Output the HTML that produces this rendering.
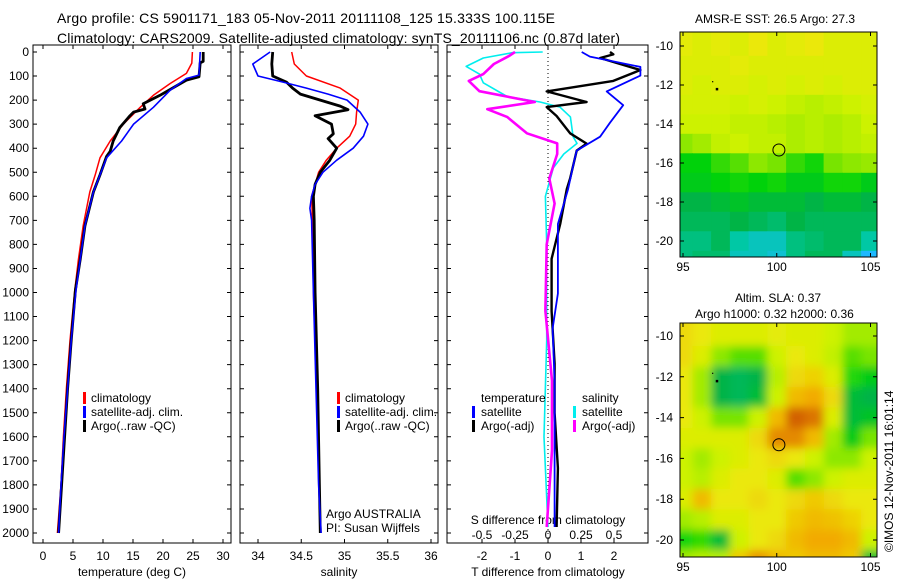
<!DOCTYPE html>
<html><head><meta charset="utf-8"><style>
html,body{margin:0;padding:0;background:#fff;}
svg{display:block;font-family:"Liberation Sans",sans-serif;}
</style></head><body>
<svg id="fig" width="900" height="580" viewBox="0 0 900 580" xmlns="http://www.w3.org/2000/svg">
<defs>
<clipPath id="c1"><rect x="33" y="45" width="198" height="498"/></clipPath>
<clipPath id="c2"><rect x="240" y="45" width="198" height="498"/></clipPath>
<clipPath id="c3"><rect x="447" y="45" width="201" height="498"/></clipPath>
<clipPath id="cm1"><rect x="680" y="32" width="197" height="225"/></clipPath>
<clipPath id="cm2"><rect x="680" y="323" width="197" height="234"/></clipPath>
<filter id="blur" x="-5%" y="-5%" width="110%" height="110%"><feGaussianBlur stdDeviation="4.5"/></filter>
</defs>
<text x="57" y="23" font-size="14" textLength="498">Argo profile: CS 5901171_183 05-Nov-2011 20111108_125 15.333S 100.115E</text>
<text x="57" y="43" font-size="14" textLength="563">Climatology: CARS2009. Satellite-adjusted climatology: synTS_20111106.nc (0.87d later)</text>
<text x="695" y="23" font-size="12">AMSR-E SST: 26.5 Argo: 27.3</text>
<text x="735" y="302" font-size="12">Altim. SLA: 0.37</text>
<text x="695" y="318" font-size="12">Argo h1000: 0.32 h2000: 0.36</text>
<text transform="translate(893,552) rotate(-90)" font-size="12">©IMOS 12-Nov-2011 16:01:14</text>
<g id="g"></g>
</svg>
<script>
// ---------- data ----------
const depthTicks = [0,100,200,300,400,500,600,700,800,900,1000,1100,1200,1300,1400,1500,1600,1700,1800,1900,2000];
const tempTicks = [0,5,10,15,20,25,30];
const salTicks = [34,34.5,35,35.5,36];
const tdiffTicks = [-2,-1,0,1,2];
const sdiffTicks = [-0.5,-0.25,0,0.25,0.5];
const sdiffLabels = ['-0.5','-0.25','0','0.25','0.5'];

const tClimDepth = [0,46,89,131,180,230,300,370,440,511,582,722,863,990,1200,1400,1600,1800,2000];
const tClimVal   = [24.9,24.8,23.9,21.2,18.4,16.2,13.4,11.2,9.5,8.7,7.8,6.7,5.9,5.3,4.5,3.9,3.4,3.0,2.4];
const tSatDepth  = [0,96,110,159,230,300,370,440,511,582,722,863,990,1200,1400,1600,1800,2000];
const tSatVal    = [26.2,26.0,23.9,21.2,18.4,15.1,13.1,10.6,9.5,8.4,7.0,6.2,5.5,4.7,4.1,3.5,3.0,2.6];
const tArgoDepth = [0,39,45,103,117,180,215,237,250,265,314,370,413,434,511,582,722,863,990,1200,1400,1600,1800,2000];
const tArgoVal   = [26.7,26.7,26.2,26.0,23.9,19.5,16.7,17.0,15.1,14.5,12.8,11.7,11.2,10.6,9.5,8.4,7.0,6.2,5.4,4.7,4.1,3.6,3.1,2.6];

const sClimDepth = [0,50,100,150,200,250,300,350,400,450,500,550,600,700,1000,1400,1800,2000];
const sClimVal   = [34.39,34.42,34.56,34.95,35.16,35.14,35.13,35.06,34.91,34.79,34.70,34.66,34.62,34.63,34.64,34.68,34.71,34.72];
const sSatDepth  = [0,50,75,100,125,150,175,200,250,300,350,400,450,500,550,600,650,700,1000,1400,1800,2000];
const sSatVal    = [34.14,33.94,33.97,34.0,34.29,34.56,34.81,35.03,35.18,35.27,35.22,35.10,34.91,34.75,34.66,34.62,34.60,34.62,34.64,34.67,34.70,34.73];
const sArgoDepth = [0,50,100,125,150,175,200,225,240,265,300,340,360,400,450,500,550,600,700,1000,1400,1800,2000];
const sArgoVal   = [34.17,34.16,34.17,34.33,34.40,34.49,34.72,34.95,35.04,34.66,34.85,34.87,34.81,34.91,34.83,34.72,34.66,34.64,34.65,34.66,34.69,34.71,34.72];

const dTSatDepth  = [0,19,62,98,164,221,294,352,410,468,570,715,860,1004,1150,1367,1657,1975];
const dTSatVal    = [1.02,1.27,2.8,2.8,1.78,2.28,1.88,1.58,0.87,0.77,0.61,0.3,0.3,0.3,0.14,0.2,0.2,0.2];
const dTArgoDepth = [0,10,25,75,120,164,208,229,266,338,381,410,526,570,715,860,1077,1295,1500,1730,1975];
const dTArgoVal   = [1.88,1.98,1.58,2.8,1.98,-0.04,1.17,-0.04,0.26,0.67,1.17,0.87,0.67,0.57,0.37,0.11,0.11,0.2,0.2,0.3,0.26];
const dSSatDepth  = [0,3,25,60,92,128,185,208,229,270,352,380,424,482,600,800,1200,1600,1975];
const dSSatVal    = [-0.04,-0.27,-0.49,-0.62,-0.52,-0.49,-0.31,-0.06,0.09,0.17,0.19,0.22,0.12,0.04,-0.02,-0.01,-0.01,-0.03,0];
const dSArgoDepth = [0,15,50,92,120,163,208,238,270,338,380,424,526,630,800,1077,1367,1657,1975];
const dSArgoVal   = [-0.25,-0.29,-0.41,-0.49,-0.6,-0.52,-0.1,-0.46,-0.31,-0.16,0.07,0.07,0.01,0.05,-0.01,-0.02,0.03,0.03,-0.01];

const mapLons = [95,96,97,98,99,100,101,102,103,104,105];
const mapLats = [-10,-11,-12,-13,-14,-15,-16,-17,-18,-19,-20,-21];
const mapLonTicks = [95,100,105];
const mapLatTicks = [-10,-12,-14,-16,-18,-20];
const sstGrid = [
 [3.1,3.0,3.1,3.0,3.2,3.0,3.1,3.2,3.0,3.0,3.0],
 [3.0,3.0,3.0,3.1,3.0,3.0,3.0,3.0,3.0,3.0,3.0],
 [3.0,2.9,3.0,3.0,2.9,3.0,2.9,3.0,2.9,3.0,3.0],
 [2.9,2.9,2.9,2.8,2.9,2.8,2.7,2.6,2.7,2.8,2.9],
 [2.8,2.8,2.8,2.7,2.7,2.6,2.5,2.6,2.5,2.6,2.8],
 [2.2,2.4,2.7,2.8,2.7,2.7,2.5,2.6,2.5,2.6,2.7],
 [1.3,1.3,1.6,1.8,2.2,2.0,1.6,1.4,2.0,2.2,2.3],
 [1.2,1.2,1.3,1.4,1.3,1.4,1.2,1.2,1.4,1.4,1.2],
 [0.9,0.9,1.0,1.1,1.0,1.0,1.0,0.9,1.0,1.0,0.9],
 [0.8,0.8,0.8,0.9,0.8,0.7,0.9,0.8,0.8,0.8,0.8],
 [0.6,0.6,0.8,0.4,0.3,0.3,0.6,0.7,0.8,0.8,0.4],
 [0.6,0.7,0.7,0.3,0.3,0.2,0.6,0.8,0.8,0.3,0.0]];
const slaGrid = [
 [3.4,3.2,3.0,3.0,3.0,3.1,3.0,3.0,2.8,2.4,2.4],
 [3.4,3.0,2.2,1.8,1.8,2.8,3.2,3.0,2.7,1.8,2.0],
 [3.2,2.4,0.9,0.8,0.9,2.6,3.4,3.5,3.0,1.5,1.2],
 [3.2,2.4,0.9,0.8,1.0,2.8,3.8,4.0,3.4,1.0,0.9],
 [3.2,2.8,2.0,2.0,2.8,3.8,4.7,4.5,3.0,1.0,1.1],
 [3.0,3.0,3.0,3.0,3.4,4.3,4.3,3.8,2.4,1.2,2.0],
 [2.8,2.4,2.8,3.0,3.2,3.4,3.2,2.8,2.2,2.2,2.8],
 [2.8,2.6,3.0,3.2,3.2,3.0,1.8,2.2,2.8,3.0,3.0],
 [3.0,3.8,3.2,3.2,3.4,3.2,3.4,3.6,3.4,3.2,3.2],
 [2.4,2.6,3.0,3.0,3.2,3.2,3.6,3.8,3.7,3.5,3.2],
 [1.4,1.6,1.0,2.8,3.2,3.4,3.8,4.0,4.0,3.8,2.8],
 [2.4,2.6,2.6,3.6,4.2,3.8,3.6,3.8,3.8,3.6,1.0]];
const argoLon = 100.115, argoLat = -15.333;

// ---------- helpers ----------
const NS = 'http://www.w3.org/2000/svg';
const root = document.getElementById('g');
function mk(tag, attrs, parent){ const e=document.createElementNS(NS,tag); for(const k in attrs) e.setAttribute(k,attrs[k]); (parent||root).appendChild(e); return e; }
function yD(d){ return 52 + d*0.2405; }
function xT(t){ return 43 + t*6; }
function xS(s){ return 258 + (s-34)*86.5; }
function xDT(v){ return 548 + v*33; }
function xDS(v){ return 548 + v*132; }
function lonX(l){ return 683 + (l-95)*18.75; }
function latY1(l){ return 46 + (-10-l)*19.5; }
function latY2(l){ return 336 + (-10-l)*20.4; }

function panel(name, x0, w){
  const r = mk('rect',{x:x0,y:45,width:w,height:498,fill:'none',stroke:'#000','stroke-width':1});
  
  
  depthTicks.forEach(d=>{
    const t = mk('path',{d:`M${x0} ${yD(d)}h4M${x0+w} ${yD(d)}h-4`,stroke:'#000','stroke-width':1});
    
    
  });
}
function series(name, depths, vals, xf, color, width, clip, dash){
  const pts = depths.map((d,i)=>xf(vals[i]).toFixed(1)+','+yD(d).toFixed(1)).join(' ');
  const p = mk('polyline',{points:pts,fill:'none',stroke:color,'stroke-width':width,'stroke-linejoin':'round','clip-path':`url(#${clip})`});
  if(dash) p.setAttribute('stroke-dasharray',dash);
  
  
}
function label(name, x, y, txt, size, anchor){
  const t = mk('text',{x:x,y:y,'font-size':size||12,'text-anchor':anchor||'start'});
  t.textContent = txt;
  
  
  return t;
}
function legBar(name, x, y, color){
  const b = mk('rect',{x:x,y:y-10,width:3,height:12,fill:color});
  
  
}

// ---------- depth axis ----------
depthTicks.forEach(d=>{ label('depth-tick-label', 29, yD(d)+4, String(d), 12, 'end'); });

// ---------- panel 1: temperature ----------
panel('temperature-panel', 33, 198);
tempTicks.forEach(t=>{
  const k = mk('path',{d:`M${xT(t)} 543v-4M${xT(t)} 45v4`,stroke:'#000'});
  
  
  label('temperature-x-tick-label', xT(t), 560, String(t), 12, 'middle');
});
label('temperature-x-axis-title', 132, 576, 'temperature (deg C)', 12, 'middle');
series('temperature-climatology-line', tClimDepth, tClimVal, xT, '#f00', 1.5, 'c1');
series('temperature-argo-line', tArgoDepth, tArgoVal, xT, '#000', 2.8, 'c1');
series('temperature-satellite-line', tSatDepth, tSatVal, xT, '#00f', 1.6, 'c1');
legBar('legend-climatology-marker', 83, 402, '#f00');
label('legend-climatology-label', 91, 402, 'climatology', 12);
legBar('legend-satellite-marker', 83, 416, '#00f');
label('legend-satellite-label', 91, 416, 'satellite-adj. clim.', 12);
legBar('legend-argo-marker', 83, 430, '#000');
label('legend-argo-label', 91, 430, 'Argo(..raw -QC)', 12);

// ---------- panel 2: salinity ----------
panel('salinity-panel', 240, 198);
salTicks.forEach(s=>{
  const k = mk('path',{d:`M${xS(s)} 543v-4M${xS(s)} 45v4`,stroke:'#000'});
  
  
  label('salinity-x-tick-label', xS(s), 560, String(s), 12, 'middle');
});
label('salinity-x-axis-title', 339, 576, 'salinity', 12, 'middle');
series('salinity-climatology-line', sClimDepth, sClimVal, xS, '#f00', 1.5, 'c2');
series('salinity-argo-line', sArgoDepth, sArgoVal, xS, '#000', 2.8, 'c2');
series('salinity-satellite-line', sSatDepth, sSatVal, xS, '#00f', 1.6, 'c2');
legBar('legend2-climatology-marker', 337, 402, '#f00');
label('legend2-climatology-label', 345, 402, 'climatology', 12);
legBar('legend2-satellite-marker', 337, 416, '#00f');
label('legend2-satellite-label', 345, 416, 'satellite-adj. clim.', 12);
legBar('legend2-argo-marker', 337, 430, '#000');
label('legend2-argo-label', 345, 430, 'Argo(..raw -QC)', 12);
label('argo-australia-label', 326, 518, 'Argo AUSTRALIA', 12);
label('pi-name-label', 326, 532, 'PI: Susan Wijffels', 12);

// ---------- panel 3: differences ----------
panel('difference-panel', 447, 201);
const zl = mk('line',{x1:548,y1:45,x2:548,y2:543,stroke:'#000','stroke-dasharray':'1,3'});


tdiffTicks.forEach(v=>{
  const k = mk('path',{d:`M${xDT(v)} 543v-4M${xDT(v)} 45v4`,stroke:'#000'});
  
  
  label('t-diff-x-tick-label', xDT(v), 560, String(v), 12, 'middle');
});
sdiffTicks.forEach((v,i)=>{ label('s-diff-tick-label', xDS(v), 539, sdiffLabels[i], 12, 'middle'); });
label('s-diff-axis-title', 548, 524, 'S difference from climatology', 12, 'middle');
label('t-diff-axis-title', 548, 576, 'T difference from climatology', 12, 'middle');
series('salinity-diff-satellite-line', dSSatDepth, dSSatVal, xDS, '#0ee', 1.6, 'c3');
series('salinity-diff-argo-line', dSArgoDepth, dSArgoVal, xDS, '#f0f', 2.6, 'c3');
series('temperature-diff-argo-line', dTArgoDepth, dTArgoVal, xDT, '#000', 2.4, 'c3');
series('temperature-diff-satellite-line', dTSatDepth, dTSatVal, xDT, '#00f', 1.8, 'c3');
label('legend3-temperature-heading', 481, 402, 'temperature', 12);
legBar('legend3-t-satellite-marker', 472, 416, '#00f');
label('legend3-t-satellite-label', 481, 416, 'satellite', 12);
legBar('legend3-t-argo-marker', 472, 430, '#000');
label('legend3-t-argo-label', 481, 430, 'Argo(-adj)', 12);
label('legend3-salinity-heading', 582, 402, 'salinity', 12);
legBar('legend3-s-satellite-marker', 573, 416, '#0ee');
label('legend3-s-satellite-label', 582, 416, 'satellite', 12);
legBar('legend3-s-argo-marker', 573, 430, '#f0f');
label('legend3-s-argo-label', 582, 430, 'Argo(-adj)', 12);

// ---------- maps ----------
const cmapStops = [[0,[30,185,255]],[0.4,[0,200,165]],[0.9,[0,180,70]],[1.3,[0,210,10]],[2,[120,228,0]],[2.8,[205,242,0]],[3.2,[235,232,10]],[4,[242,170,0]],[4.8,[205,85,0]]];
function cmap(v){
  for(let i=1;i<cmapStops.length;i++){
    if(v<=cmapStops[i][0]){ const a=cmapStops[i-1], b=cmapStops[i]; const f=(v-a[0])/(b[0]-a[0]);
      const c=a[1].map((q,j)=>Math.round(q+(b[1][j]-q)*Math.max(0,f))); return `rgb(${c})`; }
  }
  return `rgb(${cmapStops[cmapStops.length-1][1]})`;
}
function drawMap(name, grid, latY, clip, y0, h, smooth){
  const bg = mk('g',{'clip-path':`url(#${clip})`});
  
  
  const inner = mk('g', smooth?{filter:'url(#blur)'}:{}, bg);
  mapLats.forEach((lat,i)=>{ mapLons.forEach((lon,j)=>{
    const x1=lonX(lon-0.5), x2=lonX(lon+0.5), ya=latY(lat+0.5), yb=latY(lat-0.5);
    const c = mk('rect',{x:(x1-(j==0?20:0)).toFixed(1),y:(ya-(i==0?20:0)).toFixed(1),width:(x2-x1+0.6+(j==0||j==mapLons.length-1?20:0)).toFixed(1),height:(yb-ya+0.6+(i==0||i==mapLats.length-1?20:0)).toFixed(1),fill:cmap(grid[i][j])}, inner);
    
    
  });});
  const fr = mk('rect',{x:680,y:y0,width:197,height:h,fill:'none',stroke:'#000'});
  
  
  mapLatTicks.forEach(l=>{
    const k = mk('path',{d:`M680 ${latY(l)}h4M877 ${latY(l)}h-4`,stroke:'#000'});
    
    
    label(name+'-lat-label', 673, latY(l)+4, String(l), 12, 'end');
  });
  mapLonTicks.forEach(l=>{
    const k = mk('path',{d:`M${lonX(l)} ${y0+h}v-4M${lonX(l)} ${y0}v4`,stroke:'#000'});
    
    
    label(name+'-lon-label', lonX(l), y0+h+14, String(l), 12, 'middle');
  });
  const m1 = mk('rect',{x:lonX(96.8)-1,y:latY(-12.2)-1,width:2.5,height:2.5,fill:'#000'});
  
  
  const m2 = mk('rect',{x:lonX(96.55),y:latY(-11.8),width:1.2,height:1.2,fill:'#000'});
  
  
  const ci = mk('circle',{cx:lonX(argoLon),cy:latY(argoLat),r:6,fill:'none',stroke:'#000','stroke-width':1});
  
  
}
drawMap('sst-map', sstGrid, latY1, 'cm1', 32, 225, false);
drawMap('sla-map', slaGrid, latY2, 'cm2', 323, 234, true);
</script>
</body></html>
